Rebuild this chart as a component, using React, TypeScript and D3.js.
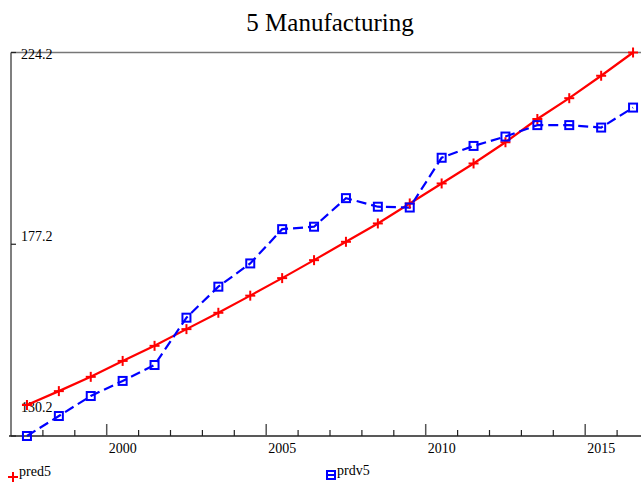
import React from "react";
import * as d3 from "d3";

// Annual series, 1997–2016
const years: number[] = [
  1997, 1998, 1999, 2000, 2001, 2002, 2003, 2004, 2005, 2006,
  2007, 2008, 2009, 2010, 2011, 2012, 2013, 2014, 2015, 2016,
];
const pred5: number[] = [
  137.8, 141.2, 144.7, 148.6, 152.3, 156.4, 160.4, 164.6, 168.9, 173.3,
  177.8, 182.3, 187.2, 192.1, 197.0, 202.2, 207.9, 213.0, 218.5, 224.2,
];
const prdv5: number[] = [
  130.2, 135.1, 140.0, 143.7, 147.6, 159.2, 166.8, 172.5, 180.9, 181.5,
  188.5, 186.4, 186.2, 198.4, 201.3, 203.6, 206.4, 206.4, 205.8, 210.7,
];
const yTickValues: number[] = [130.2, 177.2, 224.2];
const xLabelYears: number[] = [2000, 2005, 2010, 2015];
const seriesNames: string[] = ["pred5", "prdv5"];
const title = "5 Manufacturing";

const W = 641;
const H = 483;
const FONT = "Liberation Serif, Tinos, DejaVu Serif, serif";
const txt = { fontFamily: FONT } as React.CSSProperties;

export default function App() {
  const left = 11;
  const plotRight = 649;
  const top = 52.5;
  const bottom = 436;

  const x = d3.scaleLinear().domain([1997, 2017]).range([left, plotRight]);
  const y = d3
    .scaleLinear()
    .domain([d3.min(prdv5)!, d3.max(pred5)!])
    .range([bottom, top]);

  const line = d3
    .line<[number, number]>()
    .x((d) => x(d[0] + 0.5))
    .y((d) => y(d[1]));

  const redPts: [number, number][] = years.map((yr, i) => [yr, pred5[i]]);
  const bluePts: [number, number][] = years.map((yr, i) => [yr, prdv5[i]]);

  const minorYears = d3.range(1998, 2017);

  const plus = (cx: number, cy: number, key: string | number, s = 5) => (
    <g key={key} stroke="#ff0000" strokeWidth={2}>
      <line x1={cx - s} x2={cx + s} y1={cy} y2={cy} />
      <line x1={cx} x2={cx} y1={cy - s} y2={cy + s} />
    </g>
  );
  const square = (cx: number, cy: number, key: string | number, s = 4) => (
    <rect
      key={key}
      x={cx - s}
      y={cy - s}
      width={2 * s}
      height={2 * s}
      fill="none"
      stroke="#0000ff"
      strokeWidth={2}
    />
  );

  return (
    <svg
      width={W}
      height={H}
      style={{ position: "absolute", left: 0, top: 0, background: "#fff" }}
    >
      <rect x={0} y={0} width={W} height={H} fill="#fff" />
      <text
        x={(left + plotRight) / 2}
        y={31}
        textAnchor="middle"
        fontSize={25}
        fill="#000"
        style={txt}
      >
        {title}
      </text>

      {/* frame */}
      <line x1={left} x2={plotRight} y1={top} y2={top} stroke="#777" strokeWidth={1.5} />
      <line x1={left} x2={left} y1={top} y2={bottom} stroke="#555" strokeWidth={1.5} />
      <line x1={left - 2} x2={plotRight} y1={bottom} y2={bottom} stroke="#222" strokeWidth={1.5} />

      {/* y ticks & labels */}
      {yTickValues.map((v) => {
        const ty = y(v);
        const ly = Math.min(Math.max(ty - 3, top + 6), bottom - 24);
        return (
          <g key={v}>
            <line x1={left} x2={left + 5} y1={ty} y2={ty} stroke="#222" strokeWidth={1.2} />
            <text x={21} y={ly} fontSize={14} fill="#000" style={txt}>
              {v.toFixed(1)}
            </text>
          </g>
        );
      })}

      {/* x ticks */}
      {minorYears.map((yr) => {
        const major = yr % 5 === 0;
        return (
          <line
            key={yr}
            x1={x(yr)}
            x2={x(yr)}
            y1={bottom}
            y2={bottom - (major ? 12 : 6)}
            stroke={major ? "#555" : "#222"}
            strokeWidth={major ? 1.5 : 1.2}
          />
        );
      })}
      {xLabelYears.map((yr) => (
        <text key={yr} x={x(yr + 0.5)} y={453} textAnchor="middle" fontSize={14} fill="#000" style={txt}>
          {yr}
        </text>
      ))}

      {/* series */}
      <path d={line(redPts)!} fill="none" stroke="#ff0000" strokeWidth={2.2} />
      <path
        d={line(bluePts)!}
        fill="none"
        stroke="#0000ff"
        strokeWidth={2.2}
        strokeDasharray="10,5"
      />
      {redPts.map((d, i) => plus(x(d[0] + 0.5), y(d[1]), "r" + i))}
      {bluePts.map((d, i) => square(x(d[0] + 0.5), y(d[1]), "b" + i))}

      {/* legend */}
      {plus(13, 477, "lg1")}
      <text x={19} y={476} fontSize={14} fill="#000" style={txt}>
        {seriesNames[0]}
      </text>
      <line x1={326} x2={336} y1={475} y2={475} stroke="#0000ff" strokeWidth={2} />
      {square(331, 475, "lg2")}
      <text x={337} y={475} fontSize={14} fill="#000" style={txt}>
        {seriesNames[1]}
      </text>
    </svg>
  );
}
